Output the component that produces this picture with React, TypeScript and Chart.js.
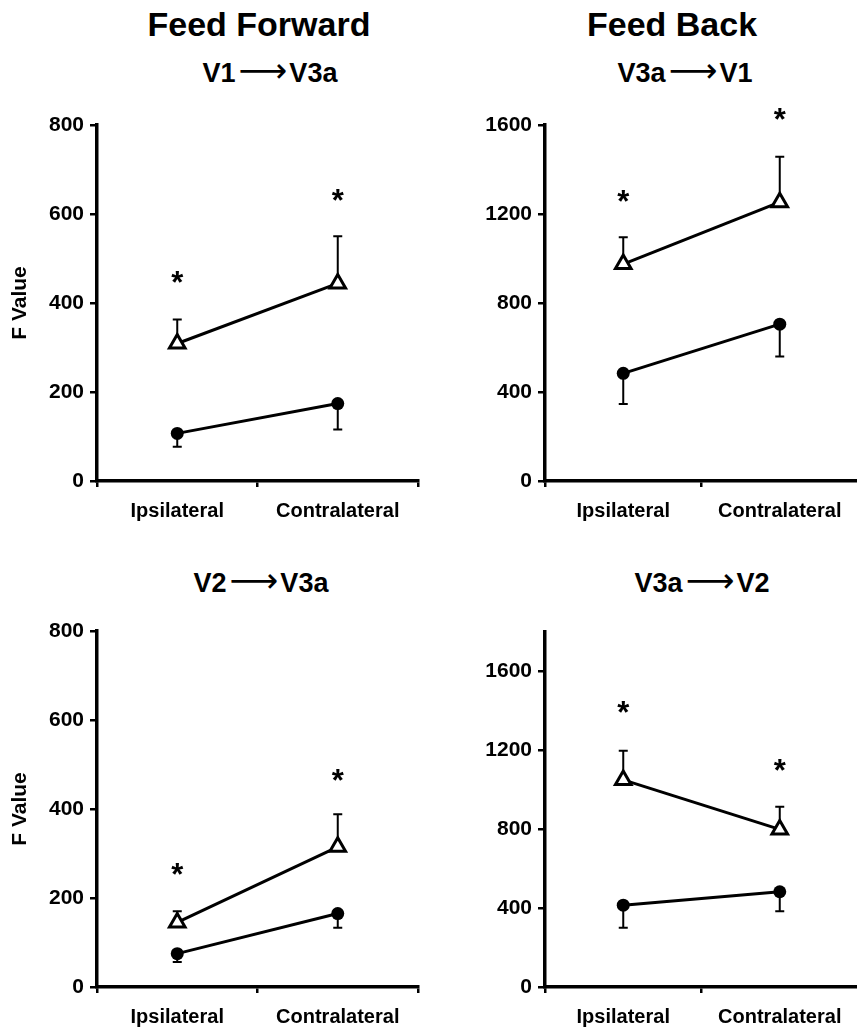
import React, { useEffect, useRef } from 'react';
import { Chart, registerables } from 'chart.js';

Chart.register(...registerables);

const FONT = '"Liberation Sans", Arial, Helvetica, sans-serif';

// Shared categories
const categories = ['Ipsilateral', 'Contralateral'];

// Feed forward: V1 -> V3a
const v1v3aTriangle = [309, 444];
const v1v3aTriangleErr = [54, 106];
const v1v3aCircle = [107, 174];
const v1v3aCircleErr = [30, 58];
const v1v3aStars = [459, 643];

// Feed back: V3a -> V1
const v3av1Triangle = [975, 1253];
const v3av1TriangleErr = [120, 204];
const v3av1Circle = [484, 705];
const v3av1CircleErr = [138, 146];
const v3av1Stars = [1283, 1648];

// Feed forward: V2 -> V3a
const v2v3aTriangle = [145, 315];
const v2v3aTriangleErr = [25, 73];
const v2v3aCircle = [75, 165];
const v2v3aCircleErr = [19, 32];
const v2v3aStars = [266, 476];

// Feed back: V3a -> V2
const v3av2Triangle = [1050, 799];
const v3av2TriangleErr = [148, 115];
const v3av2Circle = [415, 483];
const v3av2CircleErr = [115, 99];
const v3av2Stars = [1422, 1126];

// Axis ticks
const ffTicks = [0, 200, 400, 600, 800];
const fbTicks = [0, 400, 800, 1200, 1600];
const ffMax = 800;
const fbTopMax = 1600;
const fbBottomMax = 1800;

type PanelProps = {
  left: number;
  top: number;
  width: number;
  height: number;
  padTop: number;
  padRight: number;
  yWidth: number;
  xHeight: number;
  yMax: number;
  yTicks: number[];
  yTitle?: string;
  triangle: number[];
  triangleErr: number[];
  circle: number[];
  circleErr: number[];
  stars: number[];
};

function Panel(p: PanelProps) {
  const ref = useRef<HTMLCanvasElement | null>(null);
  useEffect(() => {
    if (!ref.current) return;
    const errPlugin = {
      id: 'errAndStars',
      beforeDatasetsDraw(chart: any) {
        const { ctx, scales } = chart;
        const x = scales.x;
        const y = scales.y;
        ctx.save();
        ctx.strokeStyle = '#000';
        ctx.lineWidth = 2;
        const bars = [
          { values: p.triangle, errs: p.triangleErr, dir: 1 },
          { values: p.circle, errs: p.circleErr, dir: -1 },
        ];
        bars.forEach((b) => {
          b.values.forEach((v, i) => {
            const px = x.getPixelForValue(i);
            const y0 = y.getPixelForValue(v);
            const y1 = y.getPixelForValue(v + b.dir * b.errs[i]);
            ctx.beginPath();
            ctx.moveTo(px, y0);
            ctx.lineTo(px, y1);
            ctx.moveTo(px - 4.5, y1);
            ctx.lineTo(px + 4.5, y1);
            ctx.stroke();
          });
        });
        ctx.restore();
      },
      afterDatasetsDraw(chart: any) {
        const { ctx, scales } = chart;
        const x = scales.x;
        const y = scales.y;
        ctx.save();
        ctx.fillStyle = '#000';
        ctx.font = `bold 31px ${FONT}`;
        ctx.textAlign = 'center';
        ctx.textBaseline = 'alphabetic';
        const m = ctx.measureText('*');
        const shift = (m.actualBoundingBoxAscent - m.actualBoundingBoxDescent) / 2;
        p.stars.forEach((v, i) => {
          const px = x.getPixelForValue(i);
          const py = y.getPixelForValue(v);
          ctx.fillText('*', px, py + shift);
        });
        ctx.restore();
      },
    };

    const chart = new Chart(ref.current, {
      type: 'line',
      data: {
        labels: categories,
        datasets: [
          {
            data: p.triangle,
            borderColor: '#000',
            borderWidth: 3,
            pointStyle: 'triangle',
            pointRadius: 9,
            pointBorderWidth: 3,
            pointBackgroundColor: '#fff',
            pointBorderColor: '#000',
            tension: 0,
            clip: false,
          },
          {
            data: p.circle,
            borderColor: '#000',
            borderWidth: 3,
            pointStyle: 'circle',
            pointRadius: 6.5,
            pointBorderWidth: 0,
            pointBackgroundColor: '#000',
            pointBorderColor: '#000',
            tension: 0,
            clip: false,
          },
        ],
      },
      options: {
        responsive: false,
        animation: false,
        events: [],
        layout: { padding: { top: p.padTop, right: p.padRight, left: 0, bottom: 0 } },
        plugins: {
          legend: { display: false },
          tooltip: { enabled: false },
          title: { display: false },
        },
        scales: {
          x: {
            type: 'category',
            offset: true,
            grid: {
              display: true,
              drawOnChartArea: false,
              drawTicks: true,
              tickLength: 6,
              offset: true,
              color: '#000',
              lineWidth: 2.5,
            },
            border: { display: true, color: '#000', width: 3.5 },
            ticks: {
              color: '#000',
              padding: 12,
              maxRotation: 0,
              font: { family: FONT, size: 20, weight: 'bold' },
            },
            afterFit: (scale: any) => {
              scale.height = p.xHeight;
            },
          },
          y: {
            type: 'linear',
            min: 0,
            max: p.yMax,
            grid: {
              display: true,
              drawOnChartArea: false,
              drawTicks: true,
              tickLength: 7,
              color: '#000',
              lineWidth: 2.5,
            },
            border: { display: true, color: '#000', width: 3.5 },
            ticks: {
              color: '#000',
              padding: 6,
              font: { family: FONT, size: 21, weight: 'bold' },
              callback: (v: any) => String(v),
            },
            title: {
              display: !!p.yTitle,
              text: p.yTitle || '',
              color: '#000',
              padding: { top: 8, bottom: 0 },
              font: { family: FONT, size: 21, weight: 'bold' },
            },
            afterBuildTicks: (scale: any) => {
              scale.ticks = p.yTicks.map((v) => ({ value: v }));
            },
            afterFit: (scale: any) => {
              scale.width = p.yWidth;
            },
          },
        },
      },
      plugins: [errPlugin],
    });
    return () => chart.destroy();
  }, []);
  return (
    <canvas
      ref={ref}
      width={p.width}
      height={p.height}
      style={{ position: 'absolute', left: p.left, top: p.top, width: p.width, height: p.height }}
    />
  );
}

const headStyle: React.CSSProperties = {
  position: 'absolute',
  transform: 'translate(-50%, -50%)',
  whiteSpace: 'nowrap',
  fontFamily: FONT,
  fontWeight: 'bold',
  lineHeight: 1,
  color: '#000',
};

function Head({ x, y, size, children }: { x: number; y: number; size: number; children: React.ReactNode }) {
  return <div style={{ ...headStyle, left: x, top: y, fontSize: size }}>{children}</div>;
}

function Arrow() {
  return (
    <span
      style={{
        fontFamily: '"DejaVu Sans", sans-serif',
        fontWeight: 400,
        fontSize: 34,
        lineHeight: 0,
        margin: '0 2px 0 3px',
      }}
    >
      ⟶
    </span>
  );
}

export default function App() {
  return (
    <div
      style={{
        position: 'absolute',
        left: 0,
        top: 0,
        width: 857,
        height: 1031,
        overflow: 'hidden',
        background: '#fff',
      }}
    >
      <Head x={259} y={24} size={34}>Feed Forward</Head>
      <Head x={672} y={24} size={34}>Feed Back</Head>
      <Head x={270} y={73} size={27}>
        V1<Arrow />V3a
      </Head>
      <Head x={685} y={73} size={27}>
        V3a<Arrow />V1
      </Head>
      <Head x={261} y={583} size={27}>
        V2<Arrow />V3a
      </Head>
      <Head x={702} y={583} size={27}>
        V3a<Arrow />V2
      </Head>

      <Panel
        left={0} top={95} width={430} height={432}
        padTop={30} padRight={1} yWidth={97} xHeight={46}
        yMax={ffMax} yTicks={ffTicks} yTitle="F Value"
        triangle={v1v3aTriangle} triangleErr={v1v3aTriangleErr}
        circle={v1v3aCircle} circleErr={v1v3aCircleErr} stars={v1v3aStars}
      />
      <Panel
        left={430} top={95} width={440} height={432}
        padTop={30} padRight={5} yWidth={115} xHeight={46}
        yMax={fbTopMax} yTicks={fbTicks}
        triangle={v3av1Triangle} triangleErr={v3av1TriangleErr}
        circle={v3av1Circle} circleErr={v3av1CircleErr} stars={v3av1Stars}
      />
      <Panel
        left={0} top={600} width={430} height={431}
        padTop={31} padRight={1} yWidth={97} xHeight={44}
        yMax={ffMax} yTicks={ffTicks} yTitle="F Value"
        triangle={v2v3aTriangle} triangleErr={v2v3aTriangleErr}
        circle={v2v3aCircle} circleErr={v2v3aCircleErr} stars={v2v3aStars}
      />
      <Panel
        left={430} top={600} width={440} height={431}
        padTop={32} padRight={5} yWidth={115} xHeight={44}
        yMax={fbBottomMax} yTicks={fbTicks}
        triangle={v3av2Triangle} triangleErr={v3av2TriangleErr}
        circle={v3av2Circle} circleErr={v3av2CircleErr} stars={v3av2Stars}
      />
    </div>
  );
}
